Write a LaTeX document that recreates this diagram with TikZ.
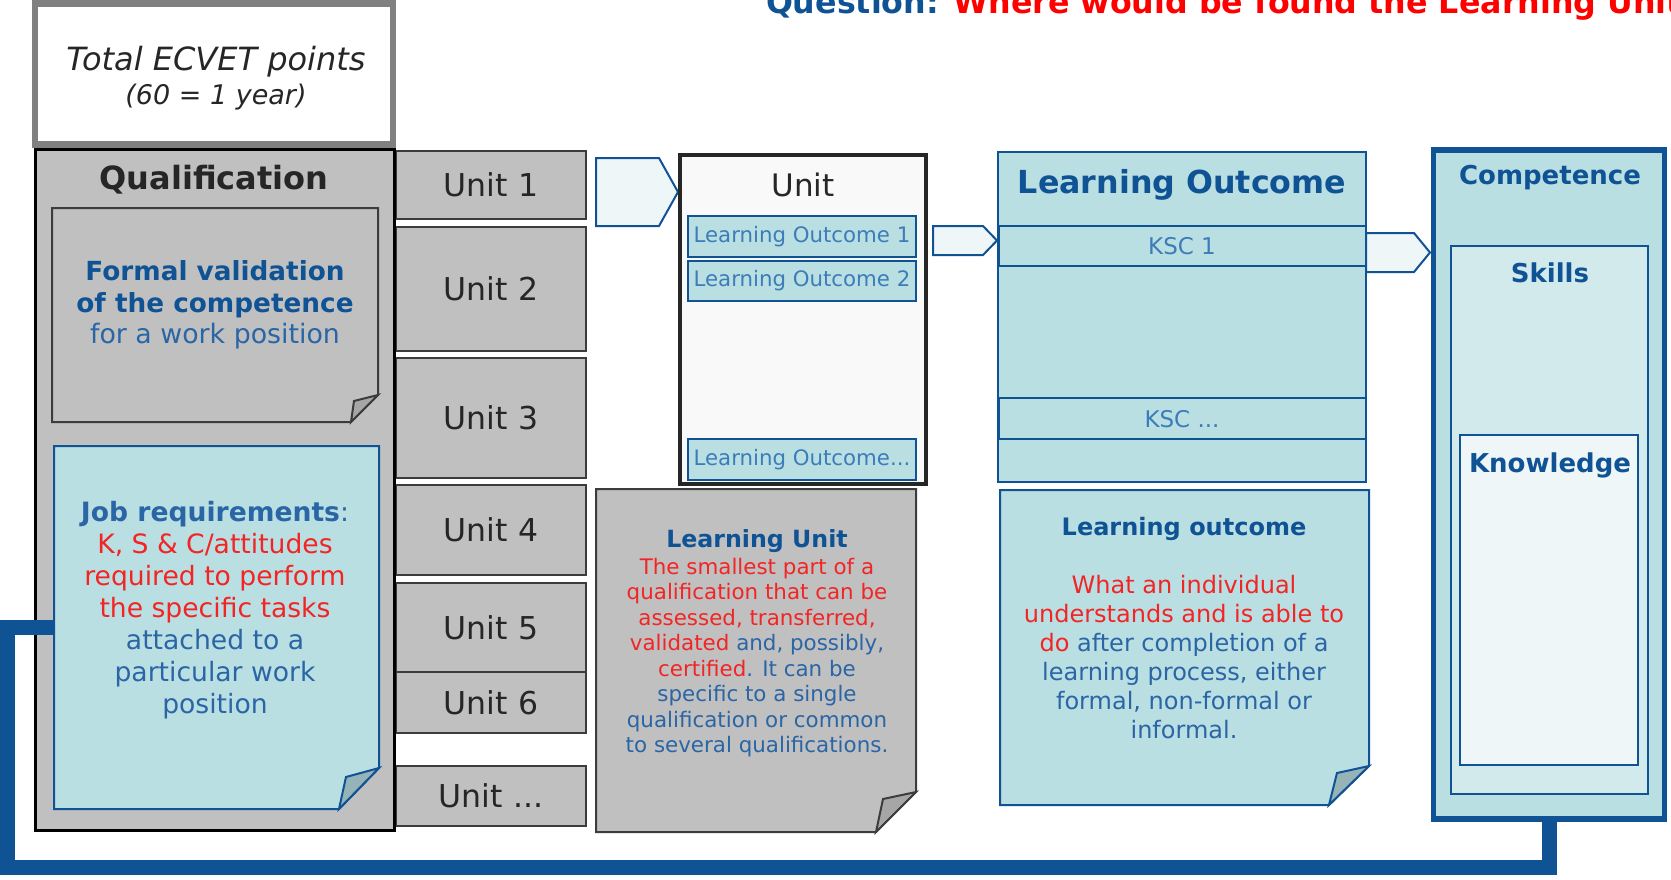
\documentclass[tikz,border=0pt]{standalone}
\usepackage{fontspec}
\setmainfont{DejaVu Sans}
\definecolor{qgray}{HTML}{C0C0C0}
\definecolor{qdark}{HTML}{3C3C3C}
\definecolor{qteal}{HTML}{BADFE3}
\definecolor{qblue}{HTML}{0F5395}
\definecolor{qtext}{HTML}{2A65A5}
\definecolor{qlo}{HTML}{3C7CB8}
\definecolor{qred}{HTML}{F22525}
\definecolor{titlered}{HTML}{FF0000}
\definecolor{qpale}{HTML}{EEF6F8}
\definecolor{qskill}{HTML}{D2EAEC}
\definecolor{qfoldg}{HTML}{A6A6A6}
\definecolor{qfoldt}{HTML}{96B4B8}
\definecolor{qborder}{HTML}{808080}
\definecolor{qink}{HTML}{262626}
\definecolor{qwhite}{HTML}{F9F9F9}
\newcommand\fs[2]{\fontsize{#1}{#2}\selectfont}
\tikzset{
  frame/.style={rectangle, anchor=north west, inner sep=0pt, outer sep=0pt},
  unitbox/.style={frame, draw=qdark, line width=2.5pt, fill=qgray, minimum width=190, text=qink, font=\fs{31.5}{36}},
  lobox/.style={frame, draw=qblue, line width=2pt, fill=qteal, minimum width=228, text=qlo, font=\fs{21.3}{25}},
  kscbox/.style={frame, draw=qblue, line width=2.5pt, fill=qteal, minimum width=367},
  notegray/.style={draw=qdark, line width=2pt, fill=qgray, line join=miter},
  foldgray/.style={draw=qdark, line width=2pt, fill=qfoldg, line join=miter},
  noteteal/.style={draw=qblue, line width=2pt, fill=qteal, line join=miter},
  foldteal/.style={draw=qblue, line width=2pt, fill=qfoldt, line join=miter},
  pent/.style={draw=qblue, line width=2pt, fill=qpale, line join=miter},
  txt/.style={anchor=base, inner sep=0pt, outer sep=0pt},
}
\begin{document}
\begin{tikzpicture}[x=1pt,y=-1pt]
\useasboundingbox (0,0) rectangle (1671,879);
\begin{scope}
\clip (0,0) rectangle (1671,879);
% title
\node[txt, anchor=base west, font=\bfseries\fs{31.7}{36}] (title) at (766,13)
  {\textcolor{qblue}{Question:} \textcolor{titlered}{Where would be found the Learning Unit}};

% Total ECVET points
\node[frame, minimum width=358, minimum height=141, draw=qborder, line width=6.5pt, fill=white] (total) at (35,3.5) {};
\node[txt, font=\itshape\fs{32}{36}, text=qink] (totalA) at (216,70) {Total ECVET points};
\node[txt, font=\itshape\fs{27}{30}, text=qink] (totalB) at (216,104) {(60 = 1 year)};

% units
\node[unitbox, minimum height=68] (u1) at (396,151) {Unit 1};
\node[unitbox, minimum height=124] (u2) at (396,227) {Unit 2};
\node[unitbox, minimum height=120] (u3) at (396,358) {Unit 3};
\node[unitbox, minimum height=90] (u4) at (396,485) {Unit 4};
\node[unitbox, minimum height=89] (u5) at (396,583) {Unit 5};
\node[unitbox, minimum height=61] (u6) at (396,672) {Unit 6};
\node[unitbox, minimum height=60] (u7) at (396,766) {Unit ...};

% Qualification
\node[frame, minimum width=358.5, minimum height=681, draw=black, line width=3pt, fill=qgray] (qual) at (35.5,149.5) {};
\node[txt, font=\bfseries\fs{32}{36}, text=qink] (qualT) at (214,189) {Qualification};

% Formal validation note
\node[frame, minimum width=326, minimum height=214] (formal) at (52,208) {};
\draw[notegray] (formal.north west) -- (formal.north east) -- ([yshift=27pt]formal.south east)
  -- ([xshift=-27pt]formal.south east) -- (formal.south west) -- cycle;
\draw[foldgray] ([yshift=27pt]formal.south east) -- ([xshift=-27pt]formal.south east)
  -- ([xshift=-24pt,yshift=21pt]formal.south east) -- cycle;
\node[txt, font=\bfseries\fs{26.3}{30}, text=qblue] (f1) at (215,280) {Formal validation};
\node[txt, font=\bfseries\fs{26.3}{30}, text=qblue] (f2) at (215,312) {of the competence};
\node[txt, font=\fs{26.8}{30}, text=qtext] (f3) at (215,343) {for a work position};

% Competence
\node[frame, minimum width=231, minimum height=669, draw=qblue, line width=5.5pt, fill=qteal] (comp) at (1433.5,150) {};
\node[frame, minimum width=197, minimum height=548, draw=qblue, line width=2pt, fill=qskill] (skills) at (1451,246) {};
\node[frame, minimum width=178, minimum height=330, draw=qblue, line width=2pt, fill=qpale] (know) at (1460,435) {};
\node[txt, font=\bfseries\fs{26}{30}, text=qblue] (compT) at (1550,184) {Competence};
\node[txt, font=\bfseries\fs{26}{30}, text=qblue] (skillsT) at (1550,282) {Skills};
\node[txt, font=\bfseries\fs{26}{30}, text=qblue] (knowT) at (1550,472) {Knowledge};

% Job requirements note + connector
\node[frame, minimum width=325, minimum height=363] (job) at (54,446) {};
\coordinate (bendL) at (7.5,867);
\draw[qblue, line width=15pt, line join=miter] (job.west) -| (bendL) -| (comp.south);
\draw[noteteal] (job.north west) -- (job.north east) -- ([yshift=41pt]job.south east)
  -- ([xshift=-40pt]job.south east) -- (job.south west) -- cycle;
\draw[foldteal] ([yshift=41pt]job.south east) -- ([xshift=-40pt]job.south east)
  -- ([xshift=-33pt,yshift=32pt]job.south east) -- cycle;
\foreach \t [count=\i, evaluate=\i as \yy using 521+(\i-1)*32] in
  {{\textbf{Job requirements}:},
   {\color{qred}K, S \& C/attitudes},
   {\color{qred}required to perform},
   {\color{qred}the specific tasks},
   {attached to a},
   {particular work},
   {position}}
  \node[txt, font=\fs{26.6}{30}, text=qtext] (job\i) at (215,\yy) {\t};

% pentagon arrows
\draw[pent] (596,158) -- (659,158) -- (678,192) -- (659,226) -- (596,226) -- cycle;
\draw[pent] (933,226) -- (983,226) -- (997,240.5) -- (983,255) -- (933,255) -- cycle;
\draw[pent] (1366,233) -- (1414,233) -- (1430,252.5) -- (1414,272) -- (1366,272) -- cycle;

% Unit detail box
\node[frame, minimum width=246, minimum height=329, draw=qink, line width=4pt, fill=qwhite] (unit) at (680,155) {};
\node[txt, font=\fs{31}{36}, text=qink] (unitT) at (803,196) {Unit};
\node[lobox, minimum height=41] (lo1) at (688,216) {Learning Outcome 1};
\node[lobox, minimum height=40] (lo2) at (688,261) {Learning Outcome 2};
\node[lobox, minimum height=41] (lo3) at (688,439) {Learning Outcome...};

% Learning Unit note
\node[frame, minimum width=320, minimum height=343] (lu) at (596,489) {};
\draw[notegray] (lu.north west) -- (lu.north east) -- ([yshift=40pt]lu.south east)
  -- ([xshift=-40pt]lu.south east) -- (lu.south west) -- cycle;
\draw[foldgray] ([yshift=40pt]lu.south east) -- ([xshift=-40pt]lu.south east)
  -- ([xshift=-33pt,yshift=33pt]lu.south east) -- cycle;
\node[txt, font=\bfseries\fs{23.7}{28}, text=qblue] (luT) at (757,547) {Learning Unit};
\foreach \t [count=\i, evaluate=\i as \yy using 574+(\i-1)*25.5] in
  {{\color{qred}The smallest part of a},
   {\color{qred}qualification that can be},
   {\color{qred}assessed, transferred,},
   {\textcolor{qred}{validated} and, possibly,},
   {\textcolor{qred}{certified}. It can be},
   {specific to a single},
   {qualification or common},
   {to several qualifications.}}
  \node[txt, font=\fs{21.4}{25}, text=qtext] (lu\i) at (757,\yy) {\t};

% Learning Outcome box
\node[frame, minimum width=368, minimum height=330, draw=qblue, line width=2pt, fill=qteal] (lob) at (998,152) {};
\node[txt, font=\bfseries\fs{31.7}{36}, text=qblue] (lobT) at (1182,193) {Learning Outcome};
\node[kscbox, minimum height=40] (ksc1) at (999,226) {};
\node[kscbox, minimum height=41] (ksc2) at (999,398) {};
\node[txt, font=\fs{23}{25}, text=qlo] (ksc1T) at (1182,254) {KSC 1};
\node[txt, font=\fs{23}{25}, text=qlo] (ksc2T) at (1182,427) {KSC ...};

% Learning outcome note
\node[frame, minimum width=369, minimum height=315] (lon) at (1000,490) {};
\draw[noteteal] (lon.north west) -- (lon.north east) -- ([yshift=39pt]lon.south east)
  -- ([xshift=-40pt]lon.south east) -- (lon.south west) -- cycle;
\draw[foldteal] ([yshift=39pt]lon.south east) -- ([xshift=-40pt]lon.south east)
  -- ([xshift=-32pt,yshift=32pt]lon.south east) -- cycle;
\node[txt, font=\bfseries\fs{24}{30}, text=qblue] (lonT) at (1184,535) {Learning outcome};
\foreach \t [count=\i, evaluate=\i as \yy using 593+(\i-1)*29] in
  {{\color{qred}What an individual},
   {\color{qred}understands and is able to},
   {\textcolor{qred}{do} after completion of a},
   {learning process, either},
   {formal, non-formal or},
   {informal.}}
  \node[txt, font=\fs{24}{30}, text=qtext] (lon\i) at (1184,\yy) {\t};
\end{scope}
\end{tikzpicture}
\end{document}
